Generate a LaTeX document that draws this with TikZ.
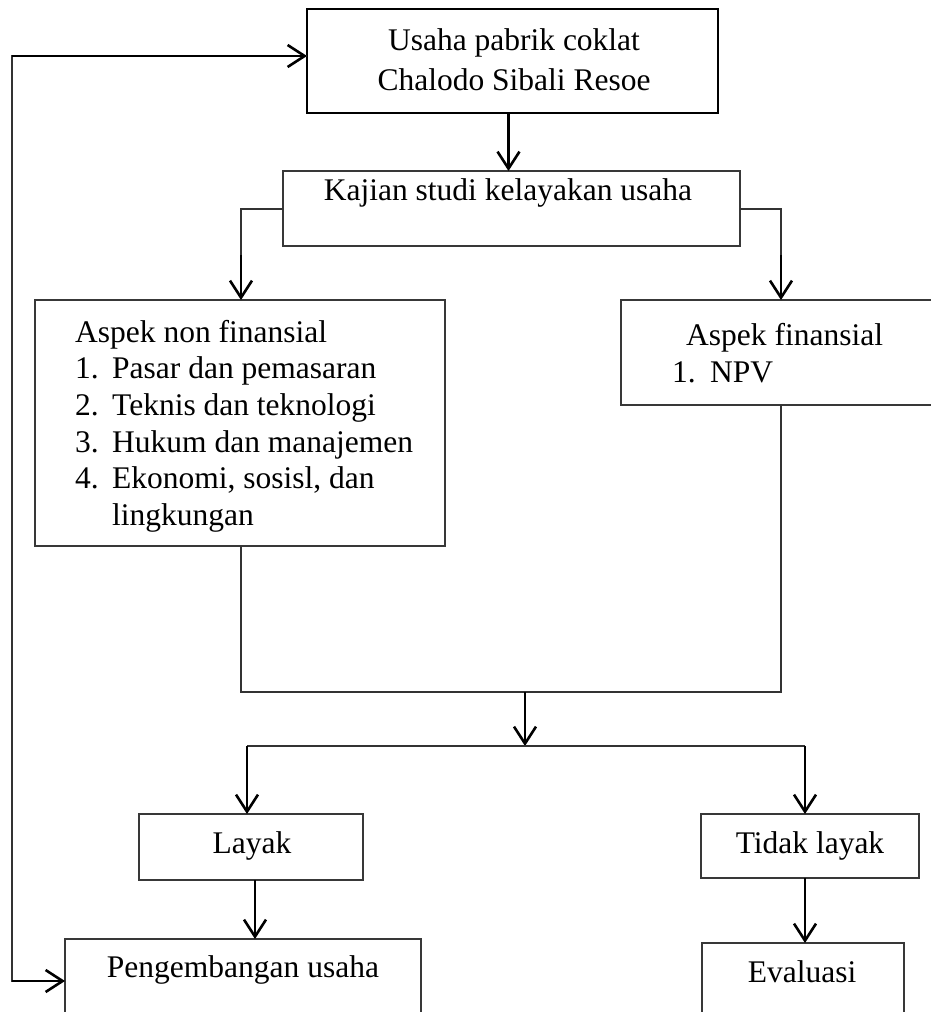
\documentclass[tikz,border=0pt]{standalone}
\usepackage{fontspec}
\setmainfont{Liberation Serif}
\usetikzlibrary{arrows.meta}
\definecolor{boxgray}{gray}{0.22}
\definecolor{conngray}{gray}{0.2}
\begin{document}
\begin{tikzpicture}[x=1pt,y=-1pt,
  box/.style={draw=boxgray, line width=1.6pt, inner sep=0pt, outer sep=0pt, rectangle},
  thickbox/.style={draw=black, line width=2.7pt, inner sep=0pt, outer sep=0pt, rectangle},
  txt/.style={inner sep=0pt, font=\fontsize{31.5}{36.7}\selectfont, anchor=base},
  txtl/.style={txt, anchor=base west},
  arr/.style={line width=2.6pt, draw=black, -{Straight Barb[length=17pt,width=22pt]}},
  conn/.style={line width=2pt, draw=conngray}]
\useasboundingbox (0,0) rectangle (930,1012);

% boxes
\node[thickbox, minimum width=411pt, minimum height=104pt] (top) at (512.5,61) {};
\node[box, minimum width=457pt, minimum height=75pt] (kajian) at (511.5,208.5) {};
\node[box, minimum width=410pt, minimum height=246pt] (nonfin) at (240,423) {};
\node[box, minimum width=339pt, minimum height=105pt] (fin) at (790.5,352.5) {};
\node[box, minimum width=224pt, minimum height=66pt] (layak) at (251,847) {};
\node[box, minimum width=218pt, minimum height=64pt] (tidak) at (810,846) {};
\node[box, minimum width=356pt, minimum height=92pt] (peng) at (243,985) {};
\node[box, minimum width=202pt, minimum height=90pt] (eval) at (803,988) {};

% texts
\node[txt] (t1) at (514,50) {Usaha pabrik coklat};
\node[txt] (t2) at (514,90) {Chalodo Sibali Resoe};
\node[txt] (tk) at (508,200) {Kajian studi kelayakan usaha};

\node[txtl] (tn) at (75,342) {Aspek non finansial};
\node[txtl] (n1) at (75,378) {1.};
\node[txtl] (i1) at (112,378) {Pasar dan pemasaran};
\node[txtl] (n2) at (75,415) {2.};
\node[txtl] (i2) at (112,415) {Teknis dan teknologi};
\node[txtl] (n3) at (75,452) {3.};
\node[txtl] (i3) at (112,452) {Hukum dan manajemen};
\node[txtl] (n4) at (75,488) {4.};
\node[txtl] (i4) at (112,488) {Ekonomi, sosisl, dan};
\node[txtl] (i4b) at (112,525) {lingkungan};

\node[txtl] (tf) at (686,345) {Aspek finansial};
\node[txtl] (f1) at (672,382) {1.};
\node[txtl] (f1t) at (710,382) {NPV};

\node[txt] (tl) at (252,853) {Layak};
\node[txt] (tt) at (810,853) {Tidak layak};
\node[txt] (tp) at (243,977) {Pengembangan usaha};
\node[txt] (te) at (802,982) {Evaluasi};

% helper coordinates
\coordinate (m) at (525,692);
\coordinate (b) at (525,746);
\coordinate (fb) at (12,500);

% connectors
\draw[arr] ([xshift=-4pt]top.south) -- ([xshift=-4pt]top.south |- kajian.north);
\draw[conn] (kajian.west) -| ([xshift=1pt]nonfin.north |- 0,260);
\draw[arr] ([xshift=1pt]nonfin.north |- 0,255) -- ([xshift=1pt]nonfin.north);
\draw[conn] (kajian.east) -| ([xshift=-9.5pt]fin.north |- 0,260);
\draw[arr] ([xshift=-9.5pt]fin.north |- 0,255) -- ([xshift=-9.5pt]fin.north);
\draw[conn] ([xshift=1pt]nonfin.south) |- (m) -| ([xshift=-9.5pt]fin.south);
\draw[arr] (m) -- (b);
\draw[conn] ([xshift=-4pt]layak.north |- b) -- ([xshift=-5pt]tidak.north |- b);
\draw[arr] ([xshift=-4pt]layak.north |- b) -- ([xshift=-4pt]layak.north);
\draw[arr] ([xshift=-5pt]tidak.north |- b) -- ([xshift=-5pt]tidak.north);
\draw[arr] ([xshift=4pt]layak.south) -- ([xshift=4pt]layak.south |- peng.north);
\draw[arr] ([xshift=-5pt]tidak.south) -- ([xshift=-5pt]tidak.south |- eval.north);
\draw[conn] ([yshift=5pt]top.west) -| (fb) |- ([yshift=4pt]peng.west);
\draw[arr] ([yshift=5pt]top.west -| fb) -- ([yshift=5pt]top.west);
\draw[arr] ([yshift=4pt]peng.west -| fb) -- ([yshift=4pt]peng.west);
\end{tikzpicture}
\end{document}
